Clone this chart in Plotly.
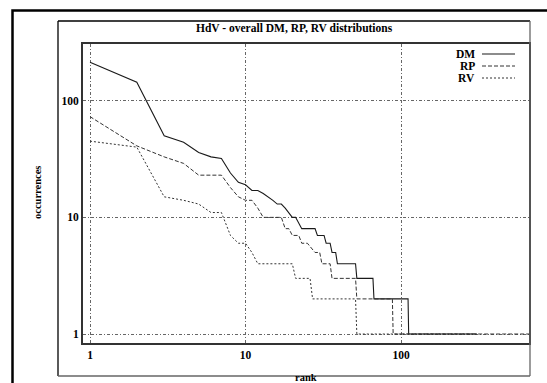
import plotly.graph_objects as go

# ---------------- data (rank -> occurrences, plateau end points) ----------------
dm_rank = [1, 2, 3, 4, 5, 6, 7, 8, 9, 10, 11, 12, 13, 14, 15, 16, 17, 18, 19, 20, 21, 22, 23, 28, 29, 32, 33, 35, 36, 38, 39, 51, 52, 66, 67, 111, 112, 308]
dm_occ = [214, 144, 50, 44, 36, 33, 32, 24, 20, 19, 17, 17, 16, 15, 14, 13, 13, 12, 11, 10, 10, 9, 8, 8, 7, 7, 6, 6, 5, 5, 4, 4, 3, 3, 2, 2, 1, 1]

rp_rank = [1, 2, 3, 4, 5, 6, 7, 8, 9, 10, 11, 12, 13, 17, 18, 19, 20, 22, 23, 25, 28, 30, 31, 35, 36, 51, 52, 88, 89, 700]
rp_occ = [73, 41, 33, 29, 23, 23, 23, 18, 15, 14, 14, 12, 10, 10, 8, 8, 7, 7, 6, 6, 5, 5, 4, 4, 3, 3, 2, 2, 1, 1]

rv_rank = [1, 2, 3, 4, 5, 6, 7, 8, 9, 10, 11, 12, 20, 21, 26, 27, 51, 52, 300]
rv_occ = [45, 40, 15, 14, 13, 11, 11, 7, 6, 6, 5, 4, 4, 3, 3, 2, 2, 1, 1]

series_names = ["DM", "RP", "RV"]
tick_vals = [1, 10, 100]
tick_text = ["1", "10", "100"]
title_text = "HdV - overall DM, RP, RV distributions"
x_title = "rank"
y_title = "occurrences"

# ---------------- layout geometry (pixels) ----------------
W, H = 547, 383
L, R, T, B = 83, 529, 44, 343  # plot area


def px(x):
    return (x - L) / (R - L)


def py(y):
    return (B - y) / (B - T)


FONT = "Liberation Serif"
styles = [dict(color="#1a1a1a", width=1.1, dash="solid"),
          dict(color="#333333", width=1.0, dash="4px,2px"),
          dict(color="#333333", width=1.0, dash="2px,2px")]

fig = go.Figure()
for name, xs, ys, st in zip(series_names, [dm_rank, rp_rank, rv_rank], [dm_occ, rp_occ, rv_occ], styles):
    fig.add_trace(go.Scatter(x=xs, y=ys, mode="lines", name=name, line=st, showlegend=False))

axis_common = dict(
    type="log",
    tickvals=tick_vals,
    ticktext=tick_text,
    showgrid=True,
    gridcolor="#666666",
    griddash="3px,2px,1px,2px",
    gridwidth=1,
    zeroline=False,
    showline=True,
    linecolor="#333333",
    linewidth=2,
    mirror=True,
    ticks="",
    tickfont=dict(family=FONT, size=11.5, color="black", weight="bold"),
)

fig.update_layout(
    width=W, height=H,
    margin=dict(l=L, r=W - R, t=T, b=H - B),
    paper_bgcolor="white",
    plot_bgcolor="white",
    xaxis=dict(axis_common, range=[-0.045, 2.823]),
    yaxis=dict(axis_common, range=[-0.077, 2.486]),
)

shapes = []
# outer thick frame
shapes.append(dict(type="rect", xref="paper", yref="paper",
                   x0=px(12.5), x1=px(600), y0=py(10.5), y1=py(420),
                   line=dict(color="black", width=2.5)))
# title box
shapes.append(dict(type="line", xref="paper", yref="paper", x0=px(58), x1=px(530), y0=py(21), y1=py(21), line=dict(color="black", width=1.3)))
shapes.append(dict(type="line", xref="paper", yref="paper", x0=px(58), x1=px(58), y0=py(21), y1=py(376), line=dict(color="black", width=1.3)))
shapes.append(dict(type="line", xref="paper", yref="paper", x0=px(530), x1=px(530), y0=py(21), y1=py(376), line=dict(color="#666666", width=1.3)))
shapes.append(dict(type="line", xref="paper", yref="paper", x0=px(58), x1=px(530), y0=py(376), y1=py(376), line=dict(color="#666666", width=1.3)))

annotations = []
annotations.append(dict(text=title_text, xref="paper", yref="paper", x=px(294), y=py(28),
                        showarrow=False, xanchor="center", yanchor="middle",
                        font=dict(family=FONT, size=11.5, color="black", weight="bold")))
annotations.append(dict(text=x_title, xref="paper", yref="paper", x=px(306), y=py(377),
                        showarrow=False, xanchor="center", yanchor="middle",
                        font=dict(family=FONT, size=10.5, color="black", weight="bold")))
annotations.append(dict(text=y_title, xref="paper", yref="paper", x=px(37), y=py(193),
                        showarrow=False, xanchor="center", yanchor="middle", textangle=-90,
                        font=dict(family=FONT, size=10.5, color="black", weight="bold")))

# legend (gnuplot style: text then line sample)
leg_y = [54, 66, 78]
for name, st, yy in zip(series_names, styles, leg_y):
    annotations.append(dict(text=name, xref="paper", yref="paper", x=px(477), y=py(yy),
                            showarrow=False, xanchor="right", yanchor="middle",
                            font=dict(family=FONT, size=11.5, color="black", weight="bold")))
    shapes.append(dict(type="line", xref="paper", yref="paper", x0=px(482), x1=px(515),
                       y0=py(yy), y1=py(yy), line=st))

fig.update_layout(shapes=shapes, annotations=annotations)
fig.write_html("out.html")
